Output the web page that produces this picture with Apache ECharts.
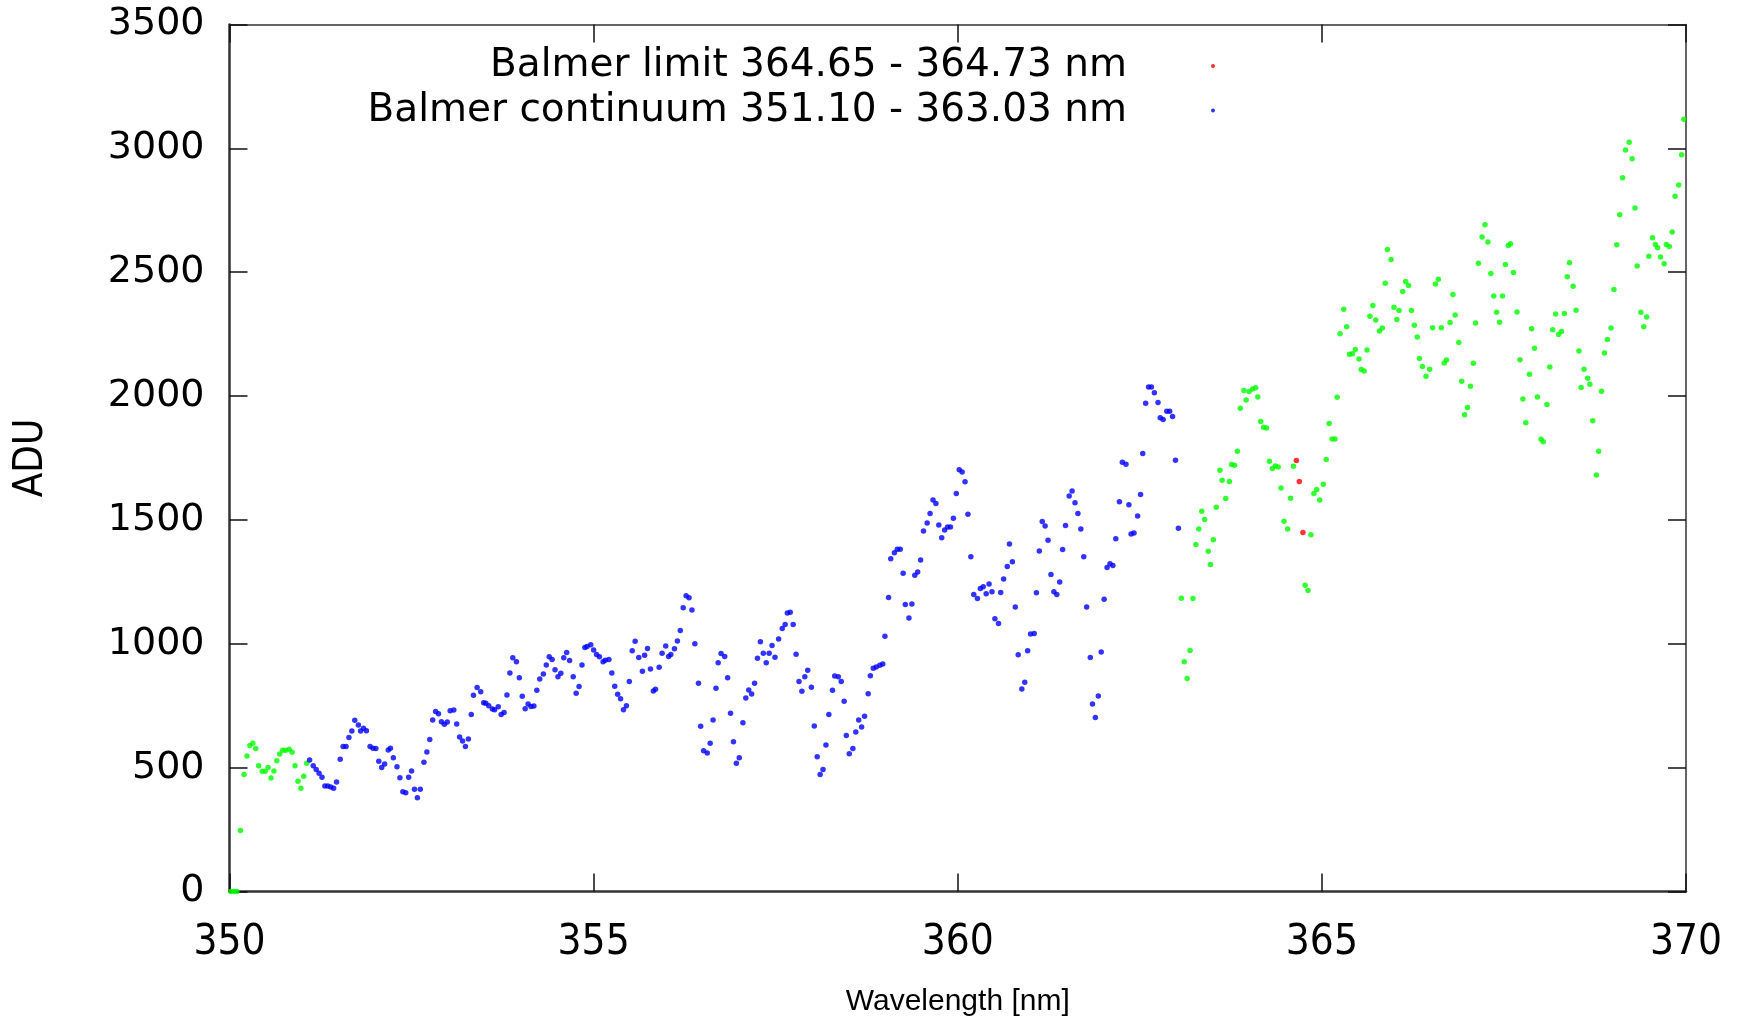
<!DOCTYPE html>
<html>
<head>
<meta charset="utf-8">
<title>Balmer continuum spectrum</title>
<script src="https://cdn.jsdelivr.net/npm/echarts@6/dist/echarts.min.js"></script>
<style>
  html, body { margin: 0; padding: 0; background: #fff; }
  #chart { width: 1748px; height: 1016px; }
</style>
</head>
<body>
<div id="chart"></div>
<script>
// Spectrum samples: [wavelength (nm), counts (ADU)]
const sidebandShort = [
  [350.02,0],[350.06,0],[350.10,0],[350.15,246],[350.20,472],[350.24,547],[350.28,589],[350.32,598],
  [350.36,577],[350.40,508],[350.45,485],[350.49,485],[350.53,501],[350.57,458],[350.61,486],[350.65,528],
  [350.69,555],[350.73,570],[350.77,570],[350.82,574],[350.86,562],[350.90,508],[350.94,445],[350.98,417],
  [351.02,465],[351.06,518]
];

const balmerContinuum = [
  [351.10,531],[351.15,508],[351.19,492],[351.23,477],[351.27,461],[351.31,426],[351.35,426],[351.39,422],
  [351.43,417],[351.47,442],[351.52,534],[351.56,585],[351.60,585],[351.64,622],[351.68,648],[351.72,691],
  [351.77,672],[351.80,648],[351.84,659],[351.88,649],[351.93,585],[351.97,578],[352.01,577],[352.05,526],
  [352.09,501],[352.13,515],[352.18,571],[352.21,578],[352.25,540],[352.30,504],[352.34,459],[352.38,403],
  [352.42,399],[352.46,461],[352.50,486],[352.54,413],[352.58,378],[352.62,413],[352.67,522],[352.71,563],
  [352.75,614],[352.79,692],[352.83,727],[352.87,718],[352.91,685],[352.95,675],[352.99,684],[353.03,730],
  [353.08,733],[353.12,676],[353.16,624],[353.20,608],[353.24,585],[353.28,616],[353.32,715],[353.35,792],
  [353.40,824],[353.45,806],[353.49,762],[353.52,760],[353.56,750],[353.61,737],[353.64,734],[353.69,746],
  [353.73,715],[353.77,723],[353.81,793],[353.85,882],[353.89,944],[353.94,927],[353.98,863],[354.02,788],
  [354.06,738],[354.10,757],[354.14,747],[354.18,749],[354.22,812],[354.26,858],[354.31,878],[354.35,914],
  [354.39,948],[354.43,937],[354.47,895],[354.51,867],[354.55,881],[354.59,944],[354.63,965],[354.67,933],
  [354.72,867],[354.76,800],[354.80,828],[354.84,914],[354.88,985],[354.91,989],[354.96,996],[355.00,975],
  [355.04,957],[355.08,948],[355.13,927],[355.16,934],[355.21,937],[355.25,882],[355.29,829],[355.33,796],
  [355.37,778],[355.41,734],[355.45,750],[355.49,848],[355.53,972],[355.57,1010],[355.62,945],[355.67,889],
  [355.70,954],[355.74,981],[355.78,898],[355.82,809],[355.85,816],[355.90,905],[355.94,962],[355.99,991],
  [356.03,949],[356.06,957],[356.11,980],[356.15,1011],[356.19,1054],[356.23,1145],[356.27,1194],[356.31,1186],
  [356.35,1136],[356.39,1000],[356.44,841],[356.47,667],[356.51,568],[356.56,559],[356.60,598],[356.64,692],
  [356.68,821],[356.71,923],[356.75,961],[356.80,949],[356.84,863],[356.88,720],[356.92,605],[356.96,518],
  [357.00,540],[357.05,681],[357.09,781],[357.13,813],[357.17,797],[357.21,841],[357.25,942],[357.29,1008],
  [357.33,962],[357.37,923],[357.41,962],[357.45,993],[357.49,946],[357.54,1019],[357.59,1062],[357.63,1078],
  [357.66,1124],[357.70,1127],[357.74,1078],[357.78,958],[357.82,848],[357.86,808],[357.90,867],[357.94,893],
  [357.99,825],[358.03,668],[358.07,544],[358.11,472],[358.15,492],[358.19,591],[358.23,715],[358.28,812],
  [358.31,870],[358.36,867],[358.40,848],[358.44,768],[358.47,630],[358.51,556],[358.56,577],[358.60,644],
  [358.64,692],[358.68,664],[358.72,707],[358.77,798],[358.80,871],[358.84,901],[358.88,906],[358.93,913],
  [358.97,918],[359.00,1030],[359.05,1187],[359.08,1343],[359.13,1367],[359.17,1382],[359.21,1382],[359.25,1285],
  [359.28,1159],[359.33,1104],[359.37,1161],[359.41,1277],[359.45,1290],[359.49,1338],[359.53,1455],[359.58,1488],
  [359.62,1526],[359.66,1580],[359.70,1566],[359.74,1480],[359.78,1428],[359.82,1459],[359.86,1471],[359.90,1471],
  [359.94,1507],[359.98,1607],[360.02,1703],[360.06,1693],[360.10,1654],[360.14,1523],[360.18,1351],[360.22,1199],
  [360.27,1183],[360.31,1223],[360.35,1230],[360.39,1202],[360.43,1241],[360.47,1210],[360.51,1101],[360.56,1082],
  [360.59,1207],[360.63,1262],[360.68,1312],[360.71,1403],[360.75,1331],[360.79,1149],[360.83,956],[360.88,817],
  [360.92,845],[360.96,972],[361.00,1040],[361.05,1042],[361.08,1206],[361.12,1375],[361.16,1494],[361.20,1475],
  [361.24,1418],[361.28,1280],[361.32,1210],[361.36,1199],[361.40,1249],[361.44,1381],[361.48,1478],[361.53,1597],
  [361.57,1617],[361.61,1569],[361.65,1526],[361.69,1463],[361.73,1351],[361.77,1149],[361.82,945],[361.85,757],
  [361.89,702],[361.93,789],[361.97,967],[362.01,1180],[362.05,1308],[362.09,1323],[362.13,1316],[362.17,1424],
  [362.22,1573],[362.26,1733],[362.31,1725],[362.35,1561],[362.38,1443],[362.42,1447],[362.47,1516],[362.51,1603],
  [362.54,1768],[362.58,1971],[362.62,2037],[362.66,2037],[362.70,2013],[362.75,1974],[362.78,1912],[362.82,1905],
  [362.87,1939],[362.91,1939],[362.95,1918],[362.99,1741],[363.03,1466]
];

const balmerLimit = [
  [364.65,1740],[364.69,1655],[364.74,1449]
];

const sidebandLong = [
  [363.07,1184],[363.11,927],[363.15,860],[363.19,973],[363.23,1183],[363.27,1401],[363.31,1463],[363.35,1535],
  [363.39,1502],[363.44,1374],[363.47,1320],[363.51,1420],[363.55,1551],[363.60,1701],[363.63,1660],[363.68,1587],
  [363.73,1655],[363.76,1724],[363.80,1721],[363.84,1777],[363.88,1951],[363.93,2022],[363.96,1984],[364.00,2018],
  [364.05,2029],[364.09,2034],[364.12,1996],[364.16,1897],[364.20,1874],[364.24,1871],[364.28,1737],[364.32,1708],
  [364.36,1718],[364.40,1714],[364.44,1629],[364.48,1495],[364.53,1463],[364.57,1588],[364.61,1717],
  [364.77,1236],[364.81,1215],[364.85,1440],[364.89,1607],[364.93,1623],[364.97,1580],[365.02,1644],[365.06,1744],
  [365.10,1889],[365.14,1827],[365.18,1827],[365.21,1995],[365.25,2252],[365.30,2350],[365.34,2280],[365.38,2169],
  [365.42,2171],[365.46,2188],[365.51,2150],[365.54,2107],[365.58,2101],[365.62,2186],[365.66,2322],[365.70,2366],
  [365.74,2307],[365.79,2263],[365.83,2275],[365.87,2455],[365.90,2592],[365.95,2551],[365.99,2359],[366.03,2309],
  [366.06,2345],[366.11,2422],[366.15,2463],[366.19,2446],[366.23,2345],[366.27,2286],[366.31,2238],[366.34,2152],
  [366.38,2119],[366.43,2080],[366.48,2108],[366.52,2276],[366.56,2452],[366.60,2472],[366.64,2276],[366.68,2134],
  [366.71,2146],[366.76,2297],[366.80,2410],[366.83,2327],[366.88,2216],[366.92,2060],[366.96,1925],[367.00,1954],
  [367.04,2040],[367.08,2132],[367.11,2295],[367.15,2536],[367.20,2642],[367.24,2692],[367.28,2622],[367.32,2495],
  [367.36,2404],[367.40,2338],[367.44,2298],[367.48,2404],[367.52,2531],[367.56,2608],[367.59,2615],[367.63,2499],
  [367.68,2339],[367.72,2147],[367.76,1988],[367.80,1892],[367.85,2088],[367.88,2272],[367.92,2193],[367.96,1996],
  [368.01,1826],[368.04,1816],[368.09,1966],[368.13,2117],[368.17,2268],[368.21,2331],[368.25,2249],[368.29,2261],
  [368.33,2333],[368.37,2482],[368.40,2538],[368.45,2443],[368.49,2346],[368.53,2182],[368.56,2035],[368.60,2108],
  [368.65,2072],[368.68,2048],[368.72,1900],[368.77,1681],[368.80,1777],[368.84,2019],[368.88,2174],[368.92,2228],
  [368.97,2275],[369.01,2430],[369.05,2611],[369.09,2732],[369.13,2881],[369.17,2993],[369.22,3025],[369.26,2958],
  [369.30,2759],[369.33,2525],[369.38,2338],[369.42,2280],[369.46,2319],[369.49,2564],[369.54,2639],[369.58,2612],
  [369.61,2599],[369.65,2561],[369.70,2534],[369.73,2612],[369.77,2604],[369.81,2662],[369.85,2807],[369.90,2852],
  [369.94,2974],[369.97,3117]
];

const limitLabel = 'Balmer limit 364.65 - 364.73 nm';
const continuumLabel = 'Balmer continuum 351.10 - 363.03 nm';
const xTicks = { min: 350, max: 370, step: 5 };
const yTicks = { min: 0, max: 3500, step: 500 };

const tickFont = "'DejaVu Sans', sans-serif";
const condensedFont = "'DejaVu Sans Condensed', 'DejaVu Sans', sans-serif";
const frameColor = '#333';

const chart = echarts.init(document.getElementById('chart'), null, { renderer: 'canvas' });

function frameAxis(extra) {
  return Object.assign({
    type: 'value',
    splitLine: { show: false },
    axisLine: { show: true, onZero: false, lineStyle: { color: frameColor, width: 1.5 } },
    axisTick: { show: true, inside: true, length: 18, lineStyle: { color: '#111', width: 1.5 } },
    axisLabel: { show: false }
  }, extra);
}

// One legend block per entry so that the sample dots share a right-hand column
function legendFor(name, centerY) {
  return {
    data: [name],
    orient: 'vertical',
    align: 'right',
    right: 533,
    top: centerY - 20,
    padding: 0,
    icon: 'circle',
    itemWidth: 162,
    itemHeight: 4,
    selectedMode: false,
    textStyle: { fontFamily: tickFont, fontSize: 39, color: '#000', lineHeight: 40 }
  };
}

chart.setOption({
  animation: false,
  backgroundColor: '#fff',
  grid: {
    left: 229.5, right: 62, top: 24.5, bottom: 124.5,
    containLabel: false,
    outerBoundsMode: 'none'
  },
  legend: [legendFor(limitLabel, 66), legendFor(continuumLabel, 110.5)],
  xAxis: [
    frameAxis({
      position: 'bottom',
      min: xTicks.min, max: xTicks.max, interval: xTicks.step,
      axisLine: { show: true, onZero: false, lineStyle: { color: frameColor, width: 2.5 } },
      axisLabel: { show: true, margin: 31, color: '#000', fontSize: 42, fontFamily: condensedFont },
      name: 'Wavelength [nm]',
      nameLocation: 'middle',
      nameGap: 95,
      nameTextStyle: { color: '#000', fontSize: 30, fontFamily: "'Liberation Sans Narrow', 'Liberation Sans', sans-serif" }
    }),
    frameAxis({ position: 'top', min: xTicks.min, max: xTicks.max, interval: xTicks.step })
  ],
  yAxis: [
    frameAxis({
      position: 'left',
      min: yTicks.min, max: yTicks.max, interval: yTicks.step,
      axisLine: { show: true, onZero: false, lineStyle: { color: frameColor, width: 2.5 } },
      axisLabel: {
        show: true, margin: 25, color: '#000', fontSize: 38, fontFamily: tickFont,
        formatter: (v) => String(v)
      },
      name: 'ADU',
      nameLocation: 'middle',
      nameGap: 178,
      nameRotate: 90,
      nameTextStyle: { color: '#000', fontSize: 40, fontFamily: condensedFont }
    }),
    frameAxis({ position: 'right', min: yTicks.min, max: yTicks.max, interval: yTicks.step })
  ],
  series: [
    {
      name: 'Spectrum', type: 'scatter', symbol: 'circle', symbolSize: 5.5,
      itemStyle: { color: '#00ff00' }, data: sidebandShort.concat(sidebandLong), z: 2
    },
    {
      name: continuumLabel, type: 'scatter', symbol: 'circle', symbolSize: 5.5,
      itemStyle: { color: '#0000ff' }, data: balmerContinuum, z: 3
    },
    {
      name: limitLabel, type: 'scatter', symbol: 'circle', symbolSize: 5.5,
      itemStyle: { color: '#ff0000' }, data: balmerLimit, z: 4
    }
  ]
});
</script>
</body>
</html>
